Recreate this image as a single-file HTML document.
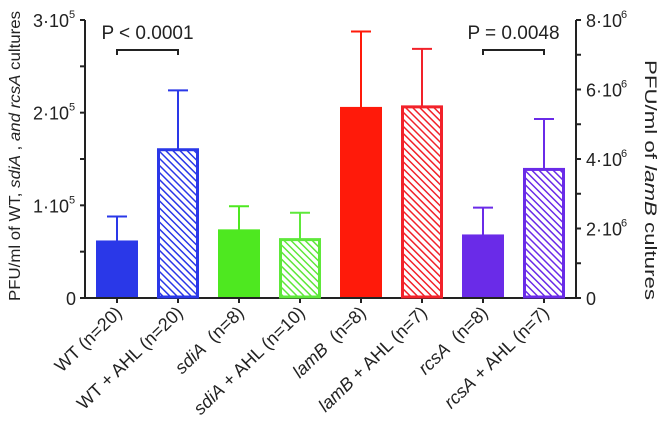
<!DOCTYPE html>
<html><head><meta charset="utf-8"><style>
body{margin:0;background:#fff}
svg{display:block;font-family:"Liberation Sans",sans-serif}
</style></head><body>
<svg id="c" width="666" height="431" viewBox="0 0 666 431">
<defs>
<pattern id="h-blue" width="5" height="5" patternUnits="userSpaceOnUse" patternTransform="rotate(-45)"><rect width="5" height="5" fill="#fff"/><rect width="1.5" height="5" fill="#2a38e8"/></pattern>
<pattern id="h-green" width="5" height="5" patternUnits="userSpaceOnUse" patternTransform="rotate(-45)"><rect width="5" height="5" fill="#fff"/><rect width="1.5" height="5" fill="#5ee83a"/></pattern>
<pattern id="h-red" width="5" height="5" patternUnits="userSpaceOnUse" patternTransform="rotate(-45)"><rect width="5" height="5" fill="#fff"/><rect width="1.5" height="5" fill="#f2222a"/></pattern>
<pattern id="h-purple" width="5" height="5" patternUnits="userSpaceOnUse" patternTransform="rotate(-45)"><rect width="5" height="5" fill="#fff"/><rect width="1.5" height="5" fill="#6a2be8"/></pattern>
</defs>
<g id="g"></g>
</svg>
<script>
const categories=["WT (n=20)","WT + AHL (n=20)","sdiA (n=8)","sdiA + AHL (n=10)","lamB (n=8)","lamB + AHL (n=7)","rcsA (n=8)","rcsA + AHL (n=7)"];
const italicParts=["","","sdiA","sdiA","lamB","lamB","rcsA","rcsA"];
const means=[0.61e5,1.6e5,0.73e5,0.63e5,5.47e6,5.5e6,1.8e6,3.7e6];
const errors=[0.27e5,0.64e5,0.26e5,0.29e5,2.2e6,1.67e6,0.8e6,1.45e6];
const axisSide=["L","L","L","L","R","R","R","R"];
const leftTicks=[0,1e5,2e5,3e5];
const leftTickLabels=["0","1·10","2·10","3·10"];
const rightTicks=[0,2e6,4e6,6e6,8e6];
const rightTickLabels=["0","2·10","4·10","6·10","8·10"];
const colors=["#2a38e8","#2a38e8","#4ee820","#5ee83a","#ff1a0a","#f2222a","#6a2be8","#6a2be8"];
const hatched=[false,true,false,true,false,true,false,true];
const hatchIds=["","h-blue","","h-green","","h-red","","h-purple"];

const NS="http://www.w3.org/2000/svg";
const g=document.getElementById('g');
const X0=85,X1=576,Y0=298,Y1=20;
const yL=v=>Y0-(v/3e5)*(Y0-Y1);
const yR=v=>Y0-(v/8e6)*(Y0-Y1);
const xC=i=>117+i*61;
function el(t,a){const e=document.createElementNS(NS,t);for(const k in a)e.setAttribute(k,a[k]);g.appendChild(e);return e;}

let e=el('path',{d:`M${X0},${Y1} V${Y0} H${X1} V${Y1}`,fill:'none',stroke:'#222',"stroke-width":2});

for(let v=0;v<=3e5;v+=0.5e5){el('line',{x1:X0-5,x2:X0,y1:yL(v),y2:yL(v),stroke:'#222',"stroke-width":2});}
for(let v=0;v<=8e6;v+=1e6){el('line',{x1:X1,x2:X1+5,y1:yR(v),y2:yR(v),stroke:'#222',"stroke-width":2});}
leftTicks.forEach((v,i)=>{const t=el('text',{x:i?X0-16:X0-9,y:yL(v)+7,"text-anchor":"end","font-size":18,fill:'#222'});

t.textContent=leftTickLabels[i];if(i){const s=el('text',{x:X0-16,y:yL(v)-2,"font-size":11,fill:'#222'});s.textContent='5';}});
rightTicks.forEach((v,i)=>{const t=el('text',{x:X1+10,y:yR(v)+7,"font-size":18,fill:'#222'});

t.textContent=rightTickLabels[i];if(i){const s=el('text',{x:X1+45,y:yR(v)-2,"font-size":11,fill:'#222'});s.textContent='6';}});
categories.forEach((c,i)=>{
 el('line',{x1:xC(i),x2:xC(i),y1:Y0,y2:Y0+5,stroke:'#222',"stroke-width":2});
 const y=axisSide[i]==="L"?yL:yR;
 const top=y(means[i]),et=y(means[i]+errors[i]);
 const ln=el('path',{d:`M${xC(i)},${top} V${et} M${xC(i)-10},${et} H${xC(i)+10}`,stroke:colors[i],"stroke-width":2,fill:'none'});
 
 const r=hatched[i]?el('rect',{x:xC(i)-19.5,y:top,width:39,height:Y0-top-1,fill:`url(#${hatchIds[i]})`,stroke:colors[i],"stroke-width":3}):
  el('rect',{x:xC(i)-21,y:top-1,width:42,height:Y0-top,fill:colors[i]});
 
 const t=el('text',{transform:`translate(${xC(i)+6},${Y0+16}) rotate(-44)`,"text-anchor":"end","font-size":18,fill:'#222'});
 
 if(italicParts[i]){const a=document.createElementNS(NS,'tspan');a.setAttribute('font-style','italic');a.textContent=italicParts[i];t.appendChild(a);
  const b=document.createElementNS(NS,'tspan');b.textContent=c.slice(italicParts[i].length).replace(/^ \(/,'\u00a0\u00a0(');t.appendChild(b);}
 else t.textContent=c;
});
[[0,1,"P < 0.0001"],[6,7,"P = 0.0048"]].forEach(([a,b,s])=>{
 const p=el('path',{d:`M${xC(a)},55 V50 H${xC(b)} V55`,stroke:'#222',"stroke-width":2,fill:'none'});
 
 const t=el('text',{x:(xC(a)+xC(b))/2,y:39,"text-anchor":"middle","font-size":19,fill:'#222'});
 t.textContent=s;});
let t=el('text',{transform:'translate(20,156) rotate(-90)',"text-anchor":"middle","font-size":16,fill:'#222',textLength:290,lengthAdjust:'spacingAndGlyphs'});

t.innerHTML='PFU/ml of WT, <tspan font-style="italic">sdiA</tspan> ,  <tspan font-style="italic">and rcsA</tspan>  cultures';
t=el('text',{transform:'translate(645,180) rotate(90)',"text-anchor":"middle","font-size":17,fill:'#222',textLength:240,lengthAdjust:'spacingAndGlyphs'});

t.innerHTML='PFU/ml of <tspan font-style="italic">lamB</tspan>  cultures';
</script>
</body></html>
